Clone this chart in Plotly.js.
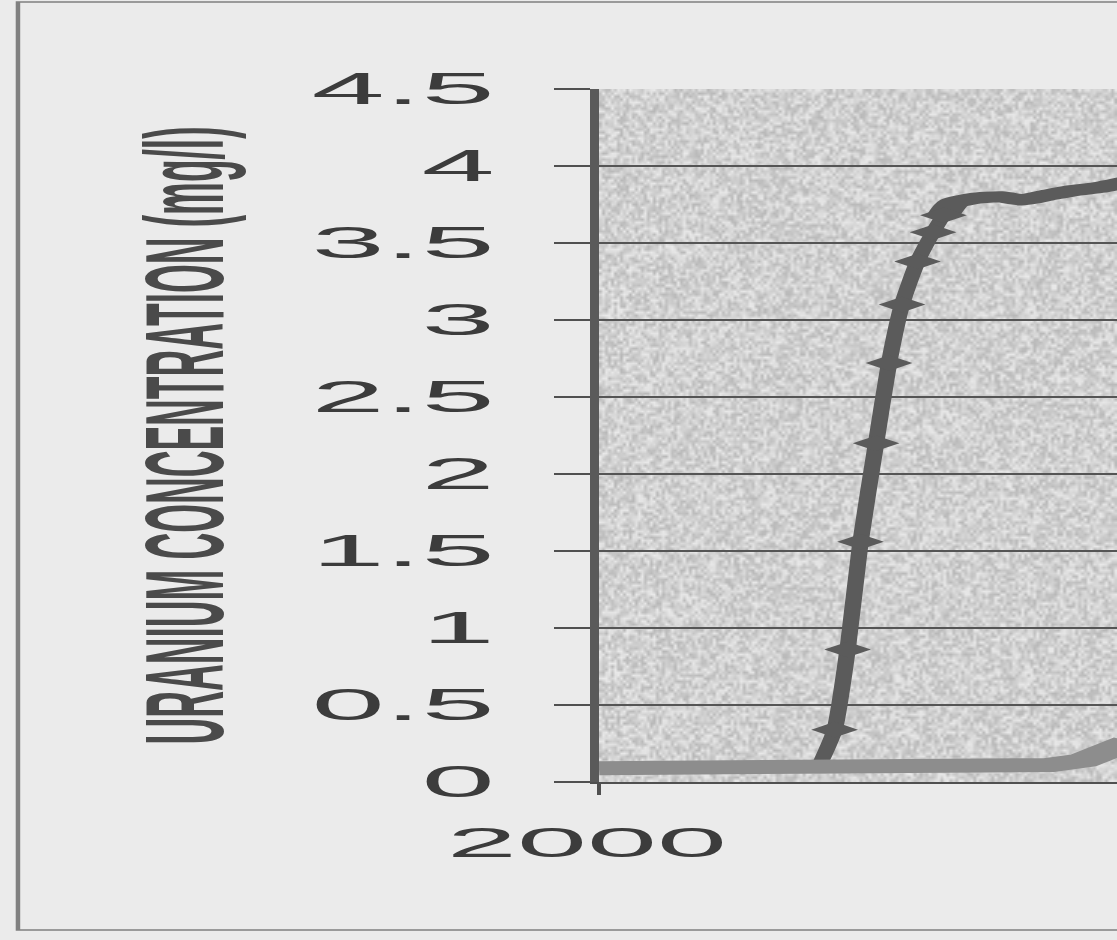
<!DOCTYPE html>
<html>
<head>
<meta charset="utf-8">
<script src="https://cdn.plot.ly/plotly-3.0.1.min.js"></script>
<style>
  html, body { margin: 0; padding: 0; overflow: hidden; background: #ebebeb; width: 1117px; height: 940px; }
  #wrap { position: absolute; left: 0; top: 0; width: 373px; height: 940px; transform-origin: 0 0; transform: scaleX(2.99464); }
  #chart { width: 373px; height: 940px; }
</style>
</head>
<body>
<div id="wrap"><div id="chart"></div></div>
<script>
// ---- data (x in years, y in mg/l) ----
var yTickVals   = [0, 0.5, 1, 1.5, 2, 2.5, 3, 3.5, 4, 4.5];
var xTickVals   = [2000];
var xTickLabels = ['2000'];

// dark series (rising curve), points carrying markers
var riseX = [2000.86, 2000.91, 2000.96, 2001.01, 2001.07, 2001.12, 2001.17, 2001.23, 2001.29, 2001.33];
var riseY = [0.14,    0.34,    0.86,    1.56,    2.20,    2.72,    3.10,    3.38,    3.57,    3.68];
// dark series continuing as a plateau
var plateauX = [2001.33, 2001.37, 2001.45, 2001.55, 2001.63, 2001.73, 2001.83, 2001.93, 2002.05];
var plateauY = [3.68,    3.76,    3.79,    3.80,    3.78,    3.81,    3.84,    3.86,    3.90];
// light series along the bottom
var baseX = [2000.00, 2000.40, 2000.78, 2001.17, 2001.55, 2001.74, 2001.87, 2001.96, 2002.00, 2002.05];
var baseY = [0.09,    0.09,    0.09,    0.09,    0.10,    0.11,    0.14,    0.19,    0.22,    0.26];

var W = 373, H = 940;
var M = {l: 200, r: 0, t: 89, b: 158};
var plotW = W - M.l - M.r, plotH = H - M.t - M.b;
function px2paperX(p) { return (p - M.l) / plotW; }
function px2paperY(p) { return (H - M.b - p) / plotH; }

// grainy texture for the plot background (pure decoration, deterministic hash)
function grainTexture() {
  var cw = plotW, ch = Math.round(plotH / 3);
  var c = document.createElement('canvas'); c.width = cw; c.height = ch;
  var ctx = c.getContext('2d');
  var img = ctx.createImageData(cw, ch);
  var s = 12345;
  for (var i = 0; i < cw * ch; i++) {
    s = (s * 1103515245 + 12345) & 0x7fffffff;
    var v = 184 + ((s >> 8) % 50);
    img.data[4*i] = v; img.data[4*i+1] = v; img.data[4*i+2] = v; img.data[4*i+3] = 255;
  }
  ctx.putImageData(img, 0, 0);
  return c.toDataURL('image/png');
}

var dark = '#5b5b5b';
var traces = [
  { x: riseX, y: riseY, type: 'scatter', mode: 'lines',
    line: {color: dark, width: 5.5, shape: 'spline', smoothing: 0.6}, hoverinfo: 'skip', showlegend: false },
  { x: plateauX, y: plateauY, type: 'scatter', mode: 'lines',
    line: {color: dark, width: 11, shape: 'spline', smoothing: 0.6}, hoverinfo: 'skip', showlegend: false },
  { x: riseX.slice(1), y: riseY.slice(1), type: 'scatter', mode: 'markers',
    marker: {symbol: 'diamond', size: 12, color: dark, line: {width: 0}}, hoverinfo: 'skip', showlegend: false },
  { x: baseX, y: baseY, type: 'scatter', mode: 'lines',
    line: {color: '#8d8d8d', width: 14}, hoverinfo: 'skip', showlegend: false }
];

var layout = {
  width: W, height: H,
  margin: M,
  paper_bgcolor: '#ebebeb',
  plot_bgcolor: '#cbcbcb',
  showlegend: false,
  font: {family: 'Liberation Sans, Arial, sans-serif', color: '#3c3c3c'},
  xaxis: {
    range: [2000, 2002], autorange: false,
    tickmode: 'array', tickvals: xTickVals, ticktext: xTickLabels,
    ticks: 'outside', ticklen: 11, tickwidth: 1.5, tickcolor: '#505050',
    ticklabelstandoff: 12, ticklabelshift: -4,
    tickfont: {size: 42, color: '#3c3c3c'},
    showgrid: false, zeroline: false,
    showline: true, linecolor: '#505050', linewidth: 1.5,
    automargin: false, fixedrange: true
  },
  yaxis: {
    range: [0, 4.5], autorange: false,
    tickmode: 'array', tickvals: yTickVals,
    ticks: 'outside', ticklen: 12, tickwidth: 1.5, tickcolor: '#505050',
    ticklabelstandoff: 11,
    tickfont: {size: 44, color: '#3c3c3c'},
    showgrid: true, gridcolor: '#555555', gridwidth: 1.5,
    zeroline: false,
    showline: true, linecolor: '#5a5a5a', linewidth: 3,
    title: {text: 'URANIUM CONCENTRATION (mg/l)', standoff: 18,
            font: {size: 37, color: '#4a4a4a', family: 'Liberation Sans, Arial, sans-serif', weight: 'bold'}},
    automargin: false, fixedrange: true
  },
  images: [
    { source: grainTexture(), xref: 'paper', yref: 'paper', x: 0, y: 1,
      sizex: 1, sizey: 1, sizing: 'stretch', xanchor: 'left', yanchor: 'top', layer: 'below' }
  ],
  shapes: [
    { type: 'rect', xref: 'paper', yref: 'paper', layer: 'below',
      x0: px2paperX(6), x1: px2paperX(W + 5), y0: px2paperY(930), y1: px2paperY(2),
      line: {color: '#808080', width: 1.5}, fillcolor: 'rgba(0,0,0,0)' }
  ]
};

Plotly.newPlot('chart', traces, layout, {displayModeBar: false, staticPlot: true});
</script>
</body>
</html>
